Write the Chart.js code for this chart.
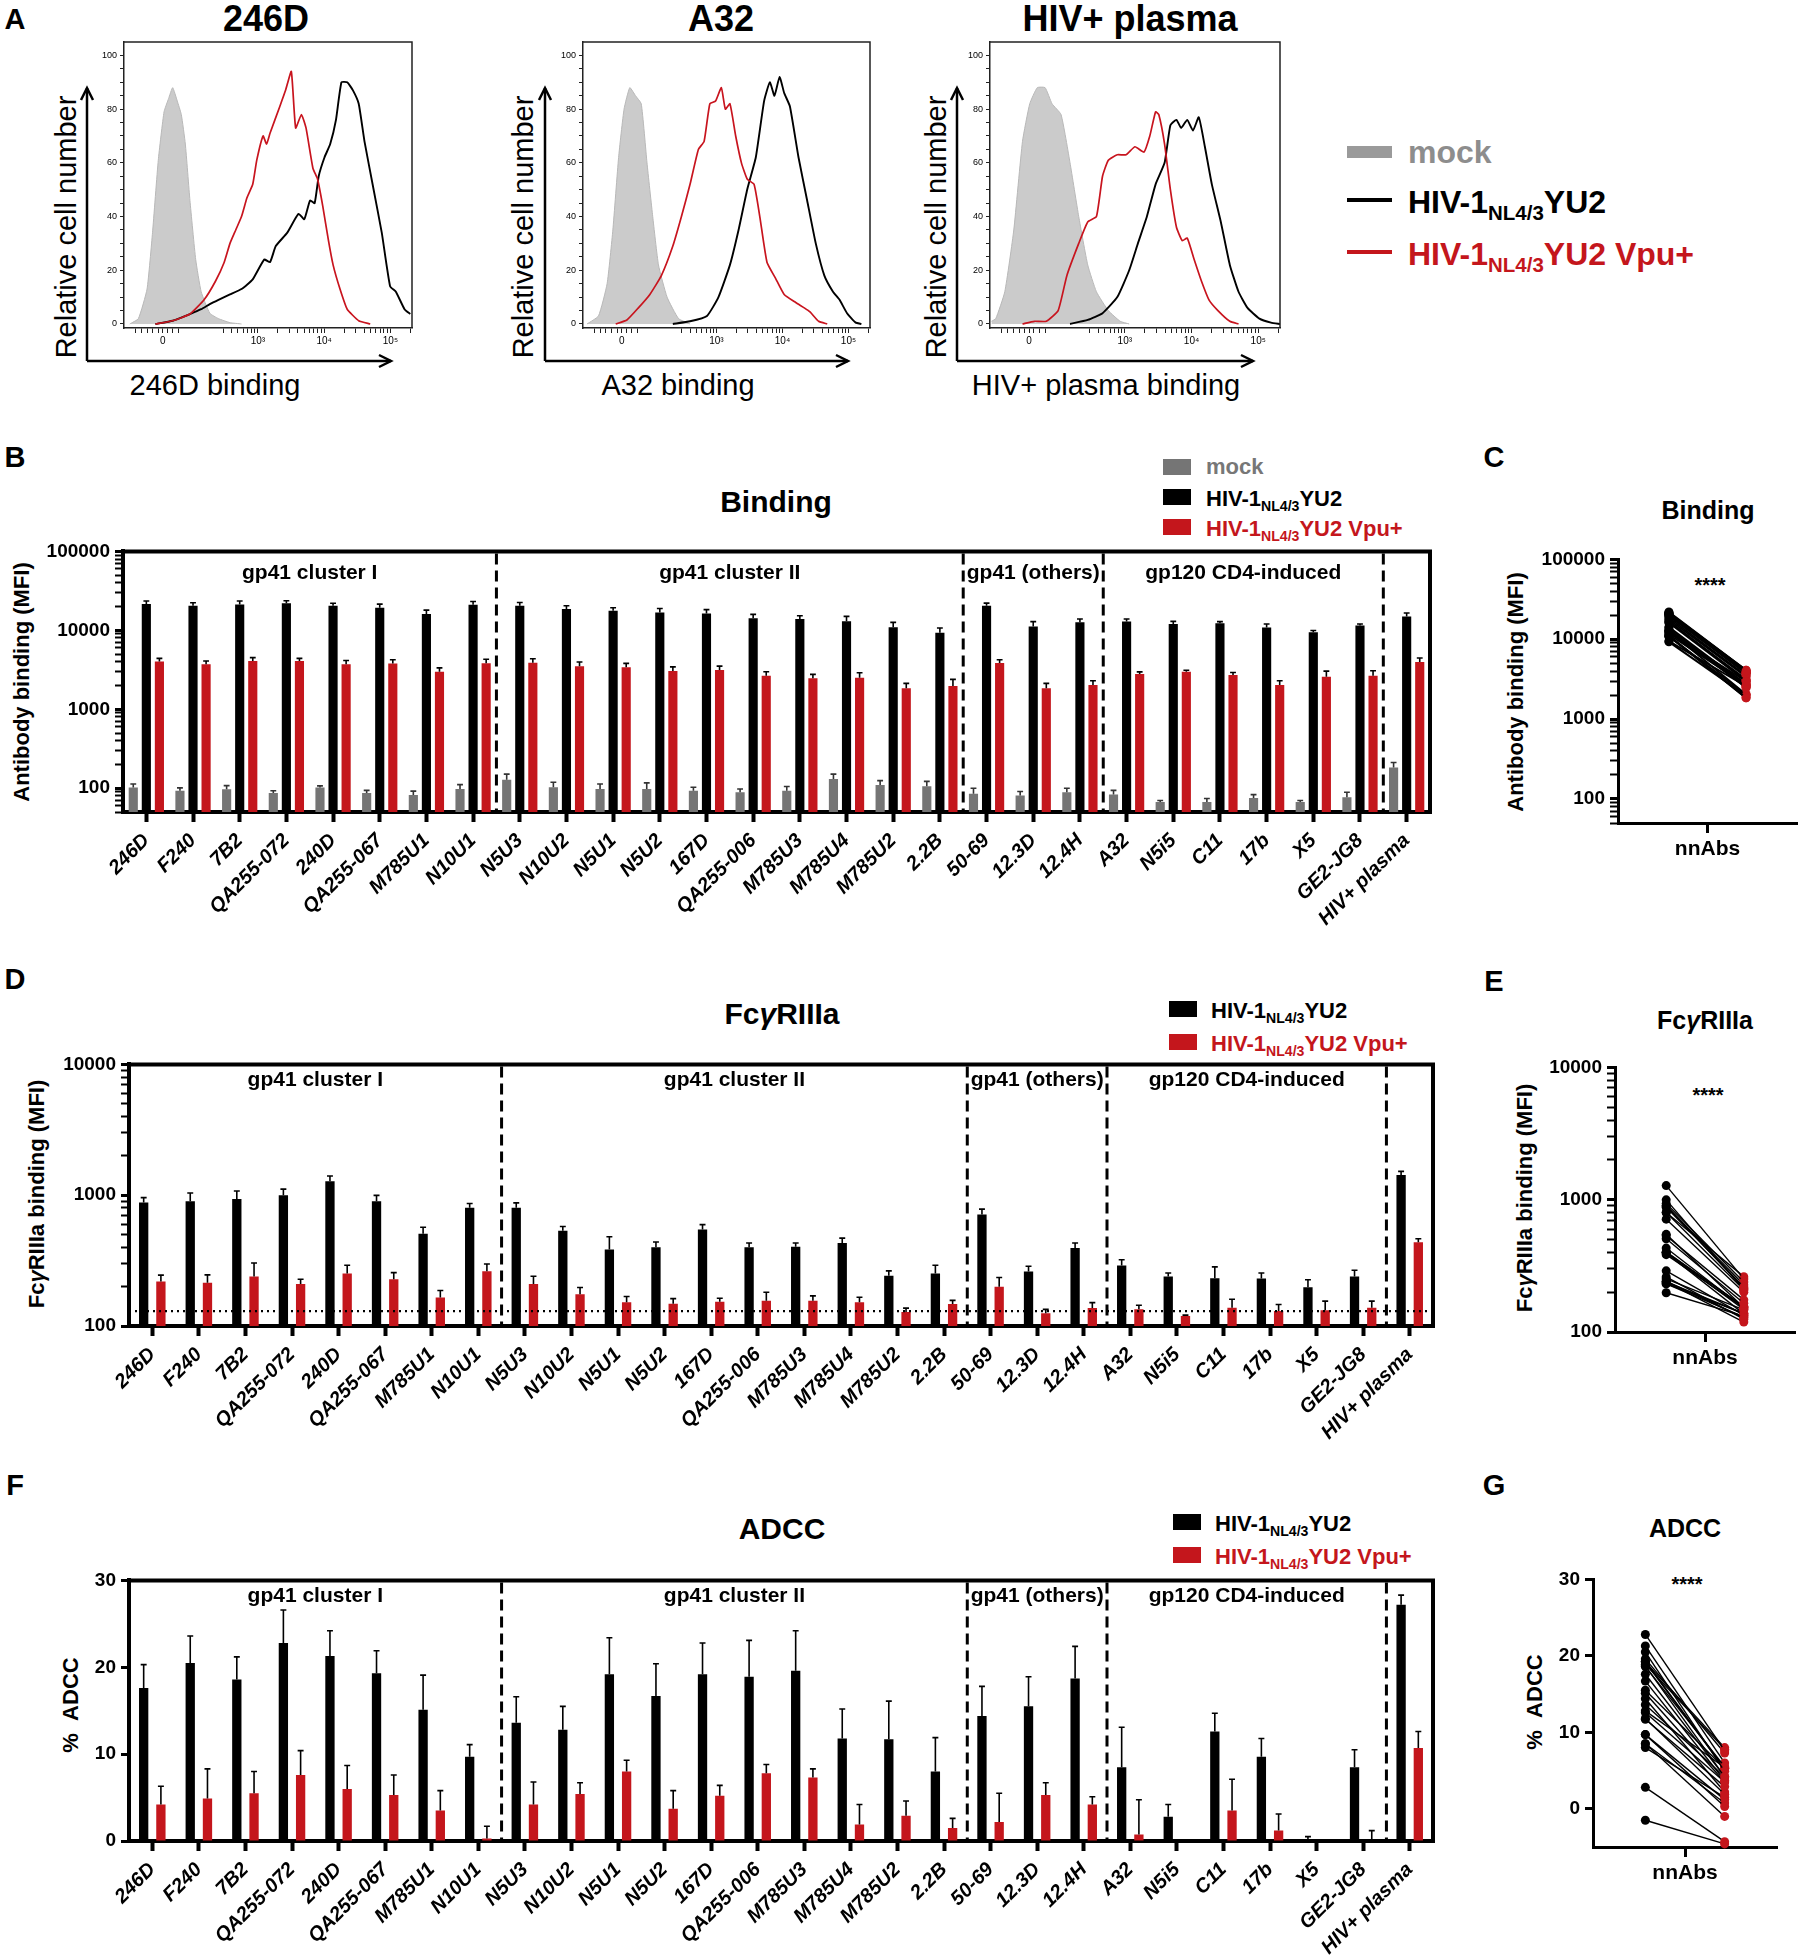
<!DOCTYPE html>
<html>
<head>
<meta charset="utf-8">
<title>Vpu reduces nnAb binding, FcγRIIIa engagement and ADCC</title>
<script src="https://cdn.jsdelivr.net/npm/chart.js@4.4.1/dist/chart.umd.min.js"></script>
<style>
  body { margin: 0; background: #fff; }
  #fig { position: relative; width: 1800px; height: 1957px; overflow: hidden; background: #fff;
         font-family: 'Liberation Sans', Arial, Helvetica, sans-serif; color: #000; }
  #fig canvas { position: absolute; }
  .t { position: absolute; white-space: nowrap; line-height: 1; font-weight: bold; }
  .n { font-weight: normal; }
  .c { transform: translate(-50%, -50%); }
  .v { transform: translate(-50%, -50%) rotate(-90deg); }
  .l { transform: translateY(-50%); }
  .sq { position: absolute; }
  sub { font-size: 0.64em; vertical-align: -0.32em; line-height: 0; }
  svg { position: absolute; left: 0; top: 0; }
</style>
</head>
<body>
<div id="fig">
  <!-- panel letters -->
  <div class="t c" style="left:15px;top:19px;font-size:29px">A</div>
  <div class="t c" style="left:15px;top:457px;font-size:29px">B</div>
  <div class="t c" style="left:1494px;top:457px;font-size:29px">C</div>
  <div class="t c" style="left:15px;top:979px;font-size:29px">D</div>
  <div class="t c" style="left:1494px;top:981px;font-size:29px">E</div>
  <div class="t c" style="left:15px;top:1485px;font-size:29px">F</div>
  <div class="t c" style="left:1494px;top:1485px;font-size:29px">G</div>

  <!-- A: titles and axis labels -->
  <div class="t c" style="left:266px;top:19px;font-size:36px">246D</div>
  <div class="t c" style="left:721px;top:19px;font-size:36px">A32</div>
  <div class="t c" style="left:1130px;top:19px;font-size:36px">HIV+ plasma</div>
  <div class="t v n" style="left:66px;top:227px;font-size:29px">Relative cell number</div>
  <div class="t v n" style="left:523px;top:227px;font-size:29px">Relative cell number</div>
  <div class="t v n" style="left:936px;top:227px;font-size:29px">Relative cell number</div>
  <div class="t c n" style="left:215px;top:385px;font-size:29px">246D binding</div>
  <div class="t c n" style="left:678px;top:385px;font-size:29px">A32 binding</div>
  <div class="t c n" style="left:1106px;top:385px;font-size:29px">HIV+ plasma binding</div>

  <!-- A: legend -->
  <div class="sq" style="left:1347px;top:146px;width:45px;height:12px;background:#9a9a9a"></div>
  <div class="t l" style="left:1408px;top:152px;font-size:32px;color:#8d8d8d">mock</div>
  <div class="sq" style="left:1347px;top:198px;width:45px;height:4px;background:#000"></div>
  <div class="t l" style="left:1408px;top:202px;font-size:32px">HIV-1<sub>NL4/3</sub>YU2</div>
  <div class="sq" style="left:1347px;top:250px;width:45px;height:4px;background:#c4161c"></div>
  <div class="t l" style="left:1408px;top:254px;font-size:32px;color:#c4161c">HIV-1<sub>NL4/3</sub>YU2 Vpu+</div>

  <!-- B -->
  <div class="t c" style="left:776px;top:502px;font-size:30px">Binding</div>
  <div class="t v" style="left:22px;top:682px;font-size:22px">Antibody binding (MFI)</div>
  <div class="sq" style="left:1163px;top:459px;width:28px;height:16px;background:#757575"></div>
  <div class="t l" style="left:1206px;top:467px;font-size:22px;color:#777">mock</div>
  <div class="sq" style="left:1163px;top:489px;width:28px;height:16px;background:#000"></div>
  <div class="t l" style="left:1206px;top:499px;font-size:22px">HIV-1<sub>NL4/3</sub>YU2</div>
  <div class="sq" style="left:1163px;top:519px;width:28px;height:16px;background:#c4161c"></div>
  <div class="t l" style="left:1206px;top:529px;font-size:22px;color:#c4161c">HIV-1<sub>NL4/3</sub>YU2 Vpu+</div>

  <!-- C -->
  <div class="t c" style="left:1708px;top:510px;font-size:25px">Binding</div>
  <div class="t v" style="left:1516px;top:692px;font-size:22px">Antibody binding (MFI)</div>
  <div class="t c" style="left:1710px;top:585px;font-size:20px">****</div>

  <!-- D -->
  <div class="t c" style="left:782px;top:1014px;font-size:30px">Fc<i>γ</i>RIIIa</div>
  <div class="t v" style="left:37px;top:1194px;font-size:22px">Fc<i>γ</i>RIIIa binding (MFI)</div>
  <div class="sq" style="left:1169px;top:1001px;width:28px;height:16px;background:#000"></div>
  <div class="t l" style="left:1211px;top:1011px;font-size:22px">HIV-1<sub>NL4/3</sub>YU2</div>
  <div class="sq" style="left:1169px;top:1034px;width:28px;height:16px;background:#c4161c"></div>
  <div class="t l" style="left:1211px;top:1044px;font-size:22px;color:#c4161c">HIV-1<sub>NL4/3</sub>YU2 Vpu+</div>

  <!-- E -->
  <div class="t c" style="left:1705px;top:1020px;font-size:25px">Fc<i>γ</i>RIIIa</div>
  <div class="t v" style="left:1525px;top:1198px;font-size:22px">Fc<i>γ</i>RIIIa binding (MFI)</div>
  <div class="t c" style="left:1708px;top:1095px;font-size:20px">****</div>

  <!-- F -->
  <div class="t c" style="left:782px;top:1529px;font-size:30px">ADCC</div>
  <div class="t v" style="left:71px;top:1705px;font-size:22px">%&nbsp;&nbsp;ADCC</div>
  <div class="sq" style="left:1173px;top:1514px;width:28px;height:16px;background:#000"></div>
  <div class="t l" style="left:1215px;top:1524px;font-size:22px">HIV-1<sub>NL4/3</sub>YU2</div>
  <div class="sq" style="left:1173px;top:1547px;width:28px;height:16px;background:#c4161c"></div>
  <div class="t l" style="left:1215px;top:1557px;font-size:22px;color:#c4161c">HIV-1<sub>NL4/3</sub>YU2 Vpu+</div>

  <!-- G -->
  <div class="t c" style="left:1685px;top:1528px;font-size:25px">ADCC</div>
  <div class="t v" style="left:1535px;top:1702px;font-size:22px">%&nbsp;&nbsp;ADCC</div>
  <div class="t c" style="left:1687px;top:1584px;font-size:20px">****</div>

  <!-- A: axis arrows -->
  <svg width="1800" height="420" viewBox="0 0 1800 420">
    <g fill="none" stroke="#000" stroke-width="2.5">
      <polyline points="87,361 87,88"/><polyline points="81,100 87,88 93,100"/>
      <polyline points="87,361 391,361"/><polyline points="379,355 391,361 379,367"/>
      <polyline points="545,361 545,88"/><polyline points="539,100 545,88 551,100"/>
      <polyline points="545,361 848,361"/><polyline points="836,355 848,361 836,367"/>
      <polyline points="957,361 957,88"/><polyline points="951,100 957,88 963,100"/>
      <polyline points="957,361 1253,361"/><polyline points="1241,355 1253,361 1241,367"/>
    </g>
  </svg>
</div>

<script>
// ---------- data ----------
const antibodies = ['246D', 'F240', '7B2', 'QA255-072', '240D', 'QA255-067', 'M785U1', 'N10U1',
  'N5U3', 'N10U2', 'N5U1', 'N5U2', '167D', 'QA255-006', 'M785U3', 'M785U4', 'M785U2', '2.2B',
  '50-69', '12.3D', '12.4H', 'A32', 'N5i5', 'C11', '17b', 'X5', 'GE2-JG8', 'HIV+ plasma'];
const groupNames = ['gp41 cluster I', 'gp41 cluster II', 'gp41 (others)', 'gp120 CD4-induced'];
const groupBounds = [-0.5, 7.5, 17.5, 20.5, 26.5];

// B: binding (MFI)
const bindMock = [102, 93, 97, 87, 102, 87, 82, 98, 128, 103, 98, 98, 93, 89, 93, 131, 110, 106, 85, 81, 89, 83, 67, 67, 75, 67, 77, 183];
const bindMockErr = [11, 8, 11, 6, 5, 7, 10, 13, 23, 16, 15, 19, 10, 9, 12, 20, 15, 16, 15, 10, 11, 11, 3, 7, 8, 3, 12, 29];
const bindYU2 = [21540, 20540, 21200, 21980, 20540, 19390, 16070, 21040, 20460, 18580, 17700, 16870, 16400, 14190,
  13900, 13000, 10930, 9290, 20460, 11170, 12650, 12900, 12050, 12300, 10840, 9480, 11480, 15030];
const bindYU2Err = [1960, 1790, 2300, 1720, 1460, 2110, 1990, 2160, 2080, 1880, 1600, 2030, 1900, 1730,
  1400, 2030, 1670, 1410, 1640, 1730, 1250, 1000, 950, 600, 1210, 460, 570, 1570];
const bindVpu = [4020, 3727, 4100, 4100, 3727, 3800, 2985, 3840, 3890, 3515, 3400, 3045, 3140, 2660,
  2465, 2510, 1845, 1970, 3870, 1845, 2030, 2790, 2980, 2710, 2030, 2580, 2660, 3980];
const bindVpuErr = [400, 370, 410, 320, 420, 450, 365, 470, 480, 465, 420, 405, 380, 330,
  305, 390, 285, 420, 380, 285, 270, 190, 140, 220, 270, 460, 420, 490];

// D: FcgRIIIa binding (MFI)
const fcYU2 = [878, 899, 935, 997, 1278, 899, 507, 801, 801, 534, 384, 400, 547, 400,
  403, 431, 242, 252, 713, 261, 395, 290, 239, 232, 231, 198, 239, 1426];
const fcYU2Err = [80, 140, 142, 116, 124, 98, 62, 62, 72, 42, 97, 39, 49, 31, 28, 39, 22, 39, 69, 25, 36, 31, 15, 51, 23, 28, 28, 94];
const fcVpu = [219, 214, 239, 209, 252, 228, 165, 262, 209, 175, 152, 148, 153, 156,
  156, 152, 128, 147, 200, 125, 137, 134, 119, 138, 130, 132, 138, 437];
const fcVpuErr = [26, 32, 64, 19, 39, 28, 22, 36, 31, 22, 16, 14, 10, 25, 14, 14, 9, 10, 35, 9, 14, 10, 2, 22, 16, 23, 17, 28];
const fcBackground = 130;

// F: % ADCC
const adccYU2 = [17.6, 20.5, 18.6, 22.8, 21.3, 19.3, 15.1, 9.7, 13.6, 12.8, 19.2, 16.7, 19.2, 18.9,
  19.6, 11.8, 11.7, 8.0, 14.4, 15.5, 18.7, 8.5, 2.8, 12.6, 9.7, -1.5, 8.5, 27.2];
const adccYU2Err = [2.7, 3.1, 2.6, 3.8, 2.9, 2.6, 4.0, 1.4, 3.0, 2.7, 4.2, 3.7, 3.6, 4.2,
  4.6, 3.4, 4.4, 3.9, 3.4, 3.4, 3.7, 4.6, 1.4, 2.1, 2.1, 2.0, 2.0, 1.1];
const adccVpu = [4.2, 4.9, 5.5, 7.6, 6.0, 5.3, 3.5, 0.3, 4.2, 5.4, 8.0, 3.7, 5.2, 7.8,
  7.3, 1.9, 2.9, 1.5, 2.2, 5.3, 4.2, 0.75, -4.3, 3.5, 1.2, -4.6, -1.0, 10.7];
const adccVpuErr = [2.1, 3.4, 2.5, 2.8, 2.7, 2.3, 2.3, 1.4, 2.6, 1.3, 1.3, 2.1, 1.2, 1.0,
  1.0, 2.3, 1.7, 1.1, 3.3, 1.4, 0.9, 4.0, 0.5, 3.6, 1.9, 0.5, 2.2, 1.9];

// A: histograms (x in display channels 0-1000, y = relative cell number)
const h1MockX = [20, 50, 80, 99, 119, 139, 155, 169, 185, 199, 213, 229, 249, 268, 298, 328, 368, 408];
const h1MockY = [0, 2, 13, 34, 61, 79, 84, 88, 83, 78, 67, 46, 24, 12, 4, 2, 0.5, 0];
const h1VpuX = [109, 169, 229, 278, 318, 348, 368, 388, 408, 427, 447, 461, 483, 495, 507, 541, 561, 581, 596,
  616, 632, 656, 672, 690, 710, 726, 750, 775, 815, 855];
const h1VpuY = [0, 1.2, 3.7, 9, 16, 23, 30, 35, 40, 47, 52, 61, 70, 67, 71, 81, 87, 94, 73,
  78, 73, 58, 54, 44, 31, 22, 13, 5.5, 1.2, 0];
const h1YU2X = [109, 169, 229, 268, 298, 328, 368, 408, 447, 487, 507, 527, 567, 606, 626, 646, 662, 676, 696,
  716, 736, 755, 775, 795, 815, 835, 865, 895, 924, 944, 974, 994];
const h1YU2Y = [0, 1.2, 3.7, 5.5, 7.4, 9, 11, 13, 16.6, 24, 23, 29, 34, 41, 39, 46, 45, 55, 62,
  67, 76, 90, 90, 87, 82, 68, 51, 34, 14, 12, 5.5, 3.7];

const h2MockX = [14, 54, 84, 104, 124, 143, 163, 183, 203, 223, 243, 263, 293, 333, 373];
const h2MockY = [0, 3, 15, 35, 62, 80, 88, 85, 82, 60, 40, 22, 10, 2, 0];
const h2VpuX = [114, 153, 193, 233, 273, 313, 343, 373, 402, 422, 442, 462, 482, 496, 512, 532, 552, 572,
  596, 616, 641, 671, 701, 741, 771, 791, 821, 851];
const h2VpuY = [0, 1.5, 6, 11, 18, 29, 40, 52, 65, 68, 82, 83, 88, 80, 82, 70, 60, 54,
  52, 40, 23, 17, 11, 8, 6, 4.5, 1, 0];
const h2YU2X = [313, 373, 432, 472, 512, 542, 572, 602, 631, 651, 667, 685, 701, 721, 751, 781, 811, 841,
  871, 894, 920, 950, 970];
const h2YU2Y = [0, 1, 3, 10, 22, 35, 50, 62, 83, 90, 85, 92, 86, 81, 62, 46, 30, 18, 12, 9, 4, 0.5, 0];

const h3MockX = [5, 20, 51, 82, 112, 137, 163, 190, 214, 245, 276, 306, 337, 367, 408, 449, 480];
const h3MockY = [1, 2, 12, 35, 68, 82, 88, 88, 82, 78, 60, 40, 22, 12, 5, 1, 0];
const h3VpuX = [112, 153, 194, 235, 265, 306, 337, 367, 388, 408, 439, 469, 500, 531, 551, 571, 582, 602,
  622, 643, 663, 680, 704, 729, 755, 786, 827, 857];
const h3VpuY = [0, 1, 1, 5, 18, 30, 38, 40, 55, 61, 63, 63, 66, 64, 70, 79, 78, 67,
  50, 36, 31, 32, 24, 16, 9, 5, 1, 0];
const h3YU2X = [276, 337, 388, 439, 480, 510, 541, 571, 602, 622, 643, 659, 680, 700, 720, 741, 765, 796,
  827, 857, 888, 929, 969, 1000];
const h3YU2Y = [0, 1.5, 4, 10, 20, 30, 40, 52, 60, 74, 76, 73, 76, 72, 77, 66, 52, 38, 22, 12, 6, 2, 0.5, 0];

// ---------- helpers ----------
const RED = '#c4161c';
const FONT = "'Liberation Sans', Arial, Helvetica, sans-serif";
Chart.defaults.font.family = FONT;
Chart.defaults.color = '#000';
Chart.defaults.animation = false;

const fig = document.getElementById('fig');

// canvas sized so that the chart area lands on the given box
function makeCanvas(area, yW, xH, padT, padR) {
  const c = document.createElement('canvas');
  const left = area.l - yW, top = area.t - padT;
  c.width = area.r - left + padR;
  c.height = area.b - top + xH;
  c.style.left = left + 'px';
  c.style.top = top + 'px';
  fig.appendChild(c);
  return c;
}

const isPow10 = v => Math.abs(Math.log10(v) - Math.round(Math.log10(v))) < 1e-6;

function logTicks(min, max) {
  const out = [];
  for (let e = Math.floor(Math.log10(min)); Math.pow(10, e) <= max; e++) {
    for (let k = 1; k < 10; k++) {
      const v = k * Math.pow(10, e);
      if (v >= min - 1e-9 && v <= max + 1e-9) out.push(v);
      if (v >= max) break;
    }
  }
  return out;
}

function logAxis(min, max, borderW) {
  return {
    type: 'logarithmic', min, max,
    afterBuildTicks: s => { s.ticks = logTicks(min, max).map(v => ({ value: v })); },
    ticks: { autoSkip: false, padding: 5, font: { size: 19, weight: 'bold' },
      callback: v => isPow10(v) ? String(Math.round(v)) : '' },
    grid: { drawOnChartArea: false, drawTicks: true, tickLength: 8, tickColor: '#000',
      tickWidth: c => (c.tick && isPow10(c.tick.value)) ? 3 : 2 },
    border: { display: true, color: '#000', width: borderW }
  };
}

function linAxis(min, max, ticks, borderW) {
  return {
    type: 'linear', min, max,
    afterBuildTicks: s => { s.ticks = ticks.map(v => ({ value: v })); },
    ticks: { autoSkip: false, padding: 5, font: { size: 19, weight: 'bold' }, callback: v => String(v) },
    grid: { drawOnChartArea: false, drawTicks: true, tickLength: 8, tickWidth: 3, tickColor: '#000' },
    border: { display: true, color: '#000', width: borderW }
  };
}

// error bars, group dividers, group names, frame, background line
const barExtras = {
  id: 'barExtras',
  afterDatasetsDraw(chart, args, opts) {
    const { ctx, chartArea: a, scales: { x, y } } = chart;
    ctx.save();
    ctx.beginPath();
    ctx.rect(a.left, a.top, a.right - a.left, a.bottom - a.top);
    ctx.clip();
    chart.data.datasets.forEach((ds, di) => {
      if (!ds.err) return;
      chart.getDatasetMeta(di).data.forEach((bar, i) => {
        const v = ds.data[i], e = ds.err[i];
        const y0 = y.getPixelForValue(v), y1 = y.getPixelForValue(v + e);
        const hw = bar.width * 0.32;
        ctx.strokeStyle = ds.errColor || '#000';
        ctx.lineWidth = 1.6;
        ctx.beginPath();
        ctx.moveTo(bar.x, y0); ctx.lineTo(bar.x, y1);
        ctx.moveTo(bar.x - hw, y1); ctx.lineTo(bar.x + hw, y1);
        ctx.stroke();
      });
    });
    if (opts.dotted) {
      const py = y.getPixelForValue(opts.dotted);
      ctx.strokeStyle = '#000'; ctx.lineWidth = 2.2; ctx.setLineDash([2, 4]);
      ctx.beginPath(); ctx.moveTo(a.left, py); ctx.lineTo(a.right, py); ctx.stroke();
      ctx.setLineDash([]);
    }
    ctx.restore();

    ctx.save();
    ctx.strokeStyle = '#000';
    ctx.lineWidth = 4;
    ctx.beginPath();
    ctx.moveTo(a.left - 2, a.top); ctx.lineTo(a.right, a.top); ctx.lineTo(a.right, a.bottom + 2);
    ctx.stroke();
    ctx.lineWidth = 3;
    ctx.setLineDash([11, 6]);
    groupBounds.slice(1).forEach(b => {
      const px = x.getPixelForValue(b);
      ctx.beginPath(); ctx.moveTo(px, a.top + 2); ctx.lineTo(px, a.bottom); ctx.stroke();
    });
    ctx.setLineDash([]);
    ctx.fillStyle = '#000';
    ctx.font = 'bold 21px ' + FONT;
    ctx.textAlign = 'center';
    ctx.textBaseline = 'middle';
    groupNames.forEach((g, k) => {
      const x0 = x.getPixelForValue(groupBounds[k]), x1 = x.getPixelForValue(groupBounds[k + 1]);
      ctx.fillText(g, (x0 + x1) / 2, a.top + opts.labelDy);
    });
    ctx.restore();
  }
};

function barChart(area, datasets, yScale, catPct, barPct, extras) {
  const yW = area.l - 40, xH = 130, padT = 12, padR = 12;
  const cv = makeCanvas(area, yW, xH, padT, padR);
  yScale.afterFit = s => { s.width = yW; };
  return new Chart(cv, {
    type: 'bar',
    data: { labels: antibodies, datasets },
    options: {
      responsive: false,
      animation: false,
      layout: { padding: { top: padT, right: padR, left: 0, bottom: 0 } },
      plugins: { legend: { display: false }, tooltip: { enabled: false }, barExtras: extras },
      datasets: { bar: { categoryPercentage: catPct, barPercentage: barPct } },
      scales: {
        x: {
          grid: { display: true, drawOnChartArea: false, drawTicks: true, tickLength: 10, tickWidth: 4,
            tickColor: '#000', offset: false },
          border: { display: true, color: '#000', width: 4 },
          ticks: { autoSkip: false, maxRotation: 45, minRotation: 45, padding: 7,
            font: { size: 20, weight: 'bold', style: 'italic' } },
          afterFit: s => { s.height = xH; }
        },
        y: yScale
      }
    },
    plugins: [barExtras]
  });
}

// paired dot plots (pre = YU2, post = YU2 Vpu+)
function pairChart(area, pre, post, yScale, lineW) {
  const yW = 100, xH = 50, padT = 12, padR = 6;
  const cv = makeCanvas(area, yW, xH, padT, padR);
  yScale.afterFit = s => { s.width = yW; };
  const datasets = pre.map((v, i) => ({
    data: [{ x: 0, y: v }, { x: 1, y: post[i] }],
    borderColor: '#000', borderWidth: lineW,
    pointRadius: 4.5, pointBorderWidth: 0,
    pointBackgroundColor: ['#000', RED], pointBorderColor: ['#000', RED],
    clip: false
  }));
  return new Chart(cv, {
    type: 'line',
    data: { datasets },
    options: {
      responsive: false,
      animation: false,
      layout: { padding: { top: padT, right: padR, left: 0, bottom: 0 } },
      plugins: { legend: { display: false }, tooltip: { enabled: false } },
      scales: {
        x: {
          type: 'linear', min: -0.66, max: 1.66,
          afterBuildTicks: s => { s.ticks = [{ value: 0.5 }]; },
          ticks: { autoSkip: false, maxRotation: 0, padding: 4, font: { size: 21, weight: 'bold' },
            callback: () => 'nnAbs' },
          grid: { drawOnChartArea: false, drawTicks: true, tickLength: 10, tickWidth: 3, tickColor: '#000' },
          border: { display: true, color: '#000', width: 3 },
          afterFit: s => { s.height = xH; }
        },
        y: yScale
      }
    }
  });
}

// flow histograms
const histMajor = { 135: '0', 465: '10³', 695: '10⁴', 925: '10⁵' };
function histXTicks() {
  const t = [40, 60, 80, 100, 120, 135, 150, 170, 190];
  for (let k = 3; k <= 9; k++) t.push(465 - 230 * Math.log10(10 / k));
  [465, 695, 925].forEach(base => {
    for (let k = 1; k <= 9; k++) {
      const p = base + 230 * Math.log10(k);
      if (p <= 1000) t.push(p);
    }
  });
  return t;
}
const histYTicks = [];
for (let v = 0; v <= 100; v += 5) histYTicks.push(v);

const histFrame = {
  id: 'histFrame',
  afterDatasetsDraw(chart) {
    const { ctx, chartArea: a } = chart;
    ctx.save();
    ctx.strokeStyle = '#222';
    ctx.lineWidth = 1.5;
    ctx.beginPath();
    ctx.moveTo(a.left, a.top); ctx.lineTo(a.right, a.top); ctx.lineTo(a.right, a.bottom);
    ctx.stroke();
    ctx.restore();
  }
};

const pts = (xs, ys) => xs.map((x, i) => ({ x, y: ys[i] }));

function histChart(area, mockX, mockY, yu2X, yu2Y, vpuX, vpuY) {
  const yW = 34, xH = 26, padT = 10, padR = 8;
  const cv = makeCanvas(area, yW, xH, padT, padR);
  return new Chart(cv, {
    type: 'line',
    data: {
      datasets: [
        { data: pts(vpuX, vpuY), borderColor: '#c8141e', borderWidth: 1.7, pointRadius: 0, fill: false, tension: 0.15 },
        { data: pts(yu2X, yu2Y), borderColor: '#000', borderWidth: 1.9, pointRadius: 0, fill: false, tension: 0.15 },
        { data: pts(mockX, mockY), borderColor: '#b8b8b8', backgroundColor: '#cbcbcb', borderWidth: 1,
          pointRadius: 0, fill: 'origin', tension: 0.15 }
      ]
    },
    options: {
      responsive: false,
      animation: false,
      layout: { padding: { top: padT, right: padR, left: 0, bottom: 0 } },
      plugins: { legend: { display: false }, tooltip: { enabled: false } },
      scales: {
        x: {
          type: 'linear', min: 0, max: 1000,
          afterBuildTicks: s => { s.ticks = histXTicks().map(v => ({ value: v })); },
          ticks: { autoSkip: false, maxRotation: 0, padding: 2, font: { size: 10 },
            callback: v => histMajor[Math.round(v)] || '' },
          grid: { drawOnChartArea: false, drawTicks: true, tickLength: 5, tickWidth: 1, tickColor: '#222' },
          border: { display: true, color: '#222', width: 1.5 },
          afterFit: s => { s.height = xH; }
        },
        y: {
          type: 'linear', min: -1.5, max: 105,
          afterBuildTicks: s => { s.ticks = histYTicks.map(v => ({ value: v })); },
          ticks: { autoSkip: false, padding: 3, font: { size: 9 }, callback: v => v % 20 === 0 ? String(v) : '' },
          grid: { drawOnChartArea: false, drawTicks: true, tickLength: 4, tickWidth: 1, tickColor: '#222' },
          border: { display: true, color: '#222', width: 1.5 },
          afterFit: s => { s.width = yW; }
        }
      }
    },
    plugins: [histFrame]
  });
}

// ---------- build ----------
histChart({ l: 124, t: 42, r: 412, b: 328 }, h1MockX, h1MockY, h1YU2X, h1YU2Y, h1VpuX, h1VpuY);
histChart({ l: 583, t: 42, r: 870, b: 328 }, h2MockX, h2MockY, h2YU2X, h2YU2Y, h2VpuX, h2VpuY);
histChart({ l: 990, t: 42, r: 1280, b: 328 }, h3MockX, h3MockY, h3YU2X, h3YU2Y, h3VpuX, h3VpuY);

barChart({ l: 123, t: 547, r: 1430, b: 812 }, [
  { label: 'mock', data: bindMock, err: bindMockErr, errColor: '#333', backgroundColor: '#757575' },
  { label: 'HIV-1 NL4/3 YU2', data: bindYU2, err: bindYU2Err, backgroundColor: '#000' },
  { label: 'HIV-1 NL4/3 YU2 Vpu+', data: bindVpu, err: bindVpuErr, backgroundColor: RED }
], logAxis(50, 100000, 4), 0.84, 0.7, { labelDy: 22 });

barChart({ l: 129, t: 1060, r: 1433, b: 1326 }, [
  { label: 'HIV-1 NL4/3 YU2', data: fcYU2, err: fcYU2Err, backgroundColor: '#000' },
  { label: 'HIV-1 NL4/3 YU2 Vpu+', data: fcVpu, err: fcVpuErr, backgroundColor: RED }
], logAxis(100, 10000, 4), 0.74, 0.54, { labelDy: 16, dotted: fcBackground });

barChart({ l: 129, t: 1576, r: 1433, b: 1841 }, [
  { label: 'HIV-1 NL4/3 YU2', data: adccYU2, err: adccYU2Err, backgroundColor: '#000' },
  { label: 'HIV-1 NL4/3 YU2 Vpu+', data: adccVpu, err: adccVpuErr, backgroundColor: RED }
], linAxis(0, 30, [0, 10, 20, 30], 4), 0.74, 0.54, { labelDy: 16 });

const nn = antibodies.length - 1; // nnAbs only, plasma excluded
pairChart({ l: 1618, t: 555, r: 1797, b: 823 }, bindYU2.slice(0, nn), bindVpu.slice(0, nn), logAxis(50, 100000, 3), 2);
pairChart({ l: 1615, t: 1063, r: 1795, b: 1332 }, fcYU2.slice(0, nn), fcVpu.slice(0, nn), logAxis(100, 10000, 3), 1.4);
pairChart({ l: 1593, t: 1575, r: 1777, b: 1847 }, adccYU2.slice(0, nn), adccVpu.slice(0, nn), linAxis(-5, 30, [0, 10, 20, 30], 3), 1.4);
</script>
</body>
</html>
